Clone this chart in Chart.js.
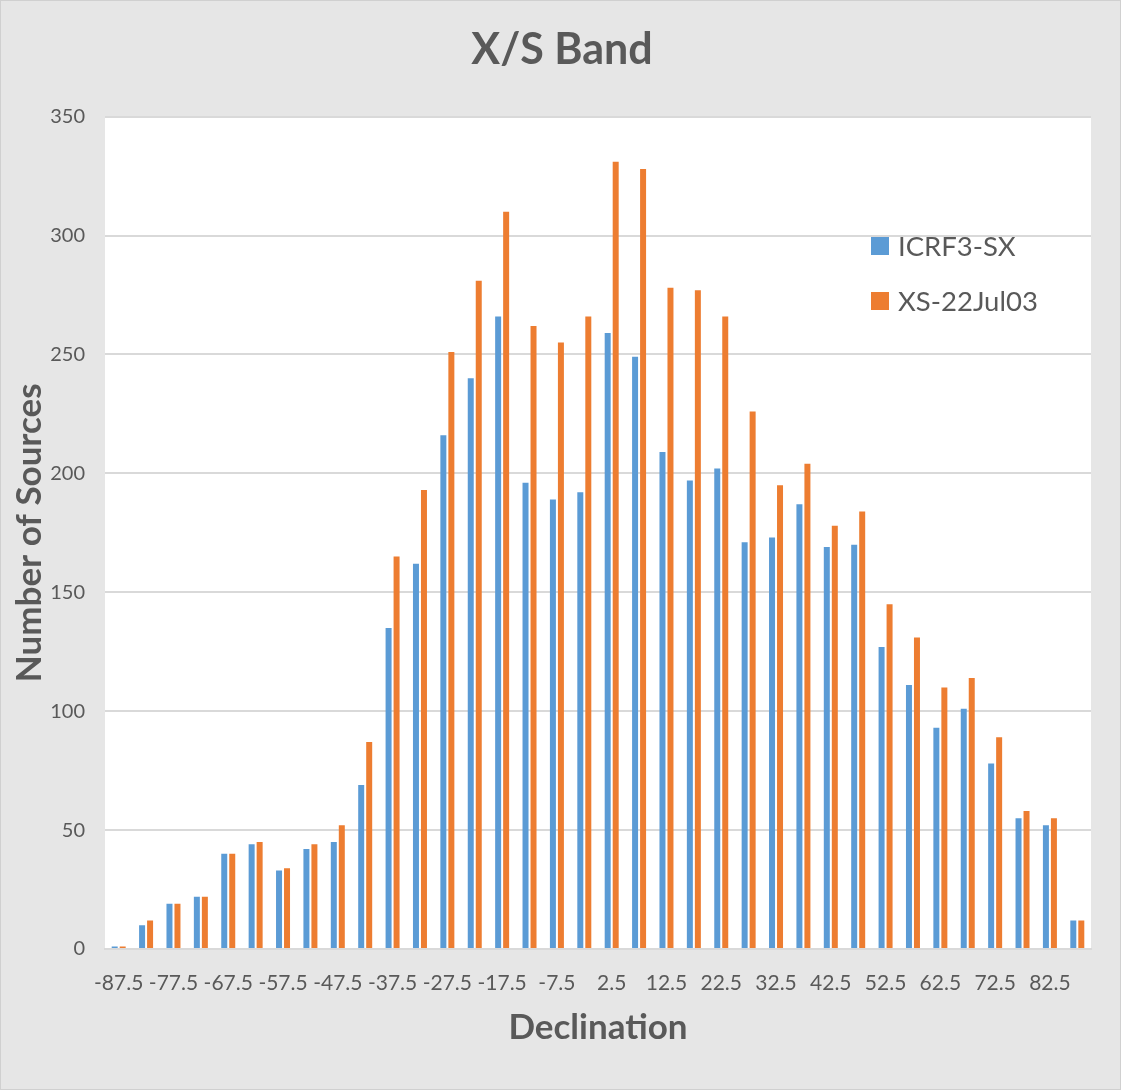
<!DOCTYPE html>
<html>
<head>
<meta charset="utf-8">
<title>X/S Band</title>
<script src="https://cdn.jsdelivr.net/npm/chart.js@4.4.1/dist/chart.umd.min.js"></script>
<style>
  html, body { margin: 0; padding: 0; background: #e6e6e6; }
  #wrap { width: 1121px; height: 1090px; }
</style>
</head>
<body>
<div id="wrap"><canvas id="srcChart" width="1121" height="1090"></canvas></div>
<script>
// Declination bins (degrees), bin centres
const declinations = ['-87.5', '-82.5', '-77.5', '-72.5', '-67.5', '-62.5', '-57.5', '-52.5', '-47.5', '-42.5',
    '-37.5', '-32.5', '-27.5', '-22.5', '-17.5', '-12.5', '-7.5', '-2.5', '2.5', '7.5',
    '12.5', '17.5', '22.5', '27.5', '32.5', '37.5', '42.5', '47.5', '52.5', '57.5',
    '62.5', '67.5', '72.5', '77.5', '82.5', '87.5'];

// Source counts per bin
const icrf3Counts = [1, 10, 19, 22, 40, 44, 33, 42, 45, 69,
    135, 162, 216, 240, 266, 196, 189, 192, 259, 249,
    209, 197, 202, 171, 173, 187, 169, 170, 127, 111,
    93, 101, 78, 55, 52, 12];
const xs22Counts = [1, 12, 19, 22, 40, 45, 34, 44, 52, 87,
    165, 193, 251, 281, 310, 262, 255, 266, 331, 328,
    278, 277, 266, 226, 195, 204, 178, 184, 145, 131,
    110, 114, 89, 58, 55, 12];

const yMax = 350;
const yStep = 50;

const textGrey = '#595959';
const gridGrey = '#d9d9d9';
const fontFam = 'Lato, "Open Sans", sans-serif';

// page background + white plot area
const plotBackground = {
    id: 'plotBackground',
    beforeDraw(chart) {
        const { ctx, chartArea: a, width, height } = chart;
        ctx.save();
        ctx.fillStyle = '#e6e6e6';
        ctx.fillRect(0, 0, width, height);
        ctx.strokeStyle = '#d0d0d0';
        ctx.lineWidth = 1;
        ctx.strokeRect(0.5, 0.5, width - 1, height - 1);
        ctx.fillStyle = '#ffffff';
        ctx.fillRect(a.left, a.top, a.right - a.left, a.bottom - a.top);
        ctx.restore();
    }
};

// legend box sitting inside the plot, top right
const innerLegend = {
    id: 'innerLegend',
    afterDraw(chart) {
        const { ctx } = chart;
        const x = 871, y0 = 246, rowGap = 55, box = 18;
        ctx.save();
        ctx.font = '27.5px ' + fontFam;
        ctx.textBaseline = 'middle';
        chart.data.datasets.forEach((ds, i) => {
            const y = y0 + i * rowGap;
            ctx.fillStyle = ds.backgroundColor;
            ctx.fillRect(x, y - box / 2, box, box);
            ctx.fillStyle = textGrey;
            ctx.fillText(ds.label, x + 27, y + 1);
        });
        ctx.restore();
    }
};

const ctx = document.getElementById('srcChart').getContext('2d');
const srcChart = new Chart(ctx, {
    type: 'bar',
    data: {
        labels: declinations,
        datasets: [
            { label: 'ICRF3-SX', data: icrf3Counts, backgroundColor: '#5b9bd5' },
            { label: 'XS-22Jul03', data: xs22Counts, backgroundColor: '#ed7d31' }
        ]
    },
    options: {
        responsive: false,
        animation: false,
        devicePixelRatio: 1,
        layout: { padding: { left: 33, right: 30, top: 0, bottom: 0 } },
        datasets: { bar: { categoryPercentage: 0.584, barPercentage: 0.75 } },
        plugins: {
            legend: { display: false },
            tooltip: { enabled: false },
            title: {
                display: true,
                text: 'X/S Band',
                color: textGrey,
                font: { family: fontFam, size: 43, weight: 'bold', lineHeight: 1.2 },
                padding: { top: 24, bottom: 41 }
            }
        },
        scales: {
            x: {
                grid: { display: false, drawTicks: false },
                border: { display: true, color: gridGrey, width: 2 },
                ticks: {
                    autoSkip: false,
                    maxRotation: 0,
                    padding: 22,
                    color: textGrey,
                    font: { family: fontFam, size: 21 },
                    callback: function (val, idx) { return idx % 2 === 0 ? this.getLabelForValue(val) : ''; }
                },
                title: {
                    display: true,
                    text: 'Declination',
                    color: textGrey,
                    font: { family: fontFam, size: 35, weight: 'bold', lineHeight: 1.2 },
                    padding: { top: 0, bottom: 41 }
                },
                afterFit(scale) { scale.height = 141; }
            },
            y: {
                min: 0,
                max: yMax,
                ticks: {
                    stepSize: yStep,
                    padding: 20,
                    color: textGrey,
                    font: { family: fontFam, size: 20 }
                },
                grid: { color: gridGrey, lineWidth: 2, drawTicks: false },
                border: { display: false },
                title: {
                    display: true,
                    text: 'Number of Sources',
                    color: textGrey,
                    font: { family: fontFam, size: 35, weight: 'bold', lineHeight: 1.2 },
                    padding: { top: -24, bottom: 0 }
                },
                afterFit(scale) { scale.width = 72; }
            }
        }
    },
    plugins: [plotBackground, innerLegend]
});
</script>
</body>
</html>
